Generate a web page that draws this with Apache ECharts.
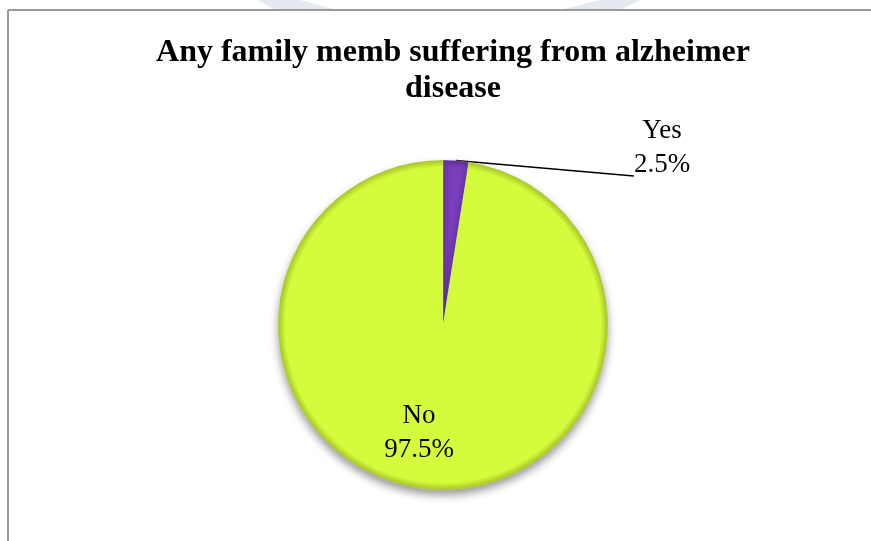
<!DOCTYPE html>
<html>
<head>
<meta charset="utf-8">
<script src="https://cdn.jsdelivr.net/npm/echarts@6/dist/echarts.min.js"></script>
<style>
html,body{margin:0;padding:0;background:#fff;}
#chart{width:871px;height:541px;}
</style>
</head>
<body>
<div id="chart"></div>
<script>
const titleText = 'Any family memb suffering from alzheimer\ndisease';
const categories = ['Yes', 'No'];
const values = [2.5, 97.5];
const colors = ['#7b3fbe', '#d4fc3c'];
const rimColors = ['#5e2d96', '#a6c326'];

const chart = echarts.init(document.getElementById('chart'));

const CX = 443, CY = 325, R = 165;

function sliceColor(base, rim) {
  return {
    type: 'radial', x: CX, y: CY, r: R, global: true,
    colorStops: [
      {offset: 0, color: base},
      {offset: 0.955, color: base},
      {offset: 1, color: rim}
    ]
  };
}

const option = {
  backgroundColor: '#ffffff',
  animation: false,
  title: {
    text: titleText,
    left: 448,
    top: 30,
    textAlign: 'center',
    textStyle: {
      fontFamily: 'Liberation Serif',
      fontWeight: 'bold',
      fontSize: 32,
      lineHeight: 36,
      color: '#000'
    }
  },
  graphic: [
    {type: 'polygon', silent: true, z: -1, shape: {points: [[258,0],[300,0],[336,10],[275,10]]}, style: {fill: '#e4eaef'}},
    {type: 'polygon', silent: true, z: -1, shape: {points: [[600,0],[640,0],[620,10],[560,10]]}, style: {fill: '#e4eaef'}},
    {type: 'line', silent: true, shape: {x1: 8, y1: 10, x2: 871, y2: 10}, style: {stroke: '#9a9a9a', lineWidth: 2}},
    {type: 'line', silent: true, shape: {x1: 8, y1: 10, x2: 8, y2: 541}, style: {stroke: '#9a9a9a', lineWidth: 2}}
  ],
  series: [{
    type: 'pie',
    center: [CX, CY],
    radius: R,
    startAngle: 90,
    clockwise: true,
    avoidLabelOverlap: false,
    itemStyle: {
      borderColor: 'rgba(255,255,255,0.35)',
      borderWidth: 0.5,
      shadowBlur: 8,
      shadowOffsetY: 5,
      shadowColor: 'rgba(0,0,0,0.4)'
    },
    label: {
      fontFamily: 'Liberation Serif',
      fontSize: 27,
      lineHeight: 34,
      color: '#000',
      align: 'center',
      formatter: '{b}\n{c}%'
    },
    labelLine: {
      show: true,
      length: 0,
      length2: 0,
      minTurnAngle: 0,
      lineStyle: {color: '#000', width: 1.5}
    },
    labelLayout: function (p) {
      if (p.dataIndex === 0) {
        return {x: 662, y: 176, align: 'center', verticalAlign: 'middle'};
      }
      return {x: 419, y: 433, align: 'center', verticalAlign: 'middle'};
    },
    data: categories.map(function (c, i) {
      const item = {
        name: c,
        value: values[i],
        itemStyle: {color: sliceColor(colors[i], rimColors[i])}
      };
      if (i === 1) {
        item.label = {position: 'inside'};
        item.labelLine = {show: false};
      } else {
        item.label = {
          position: 'outside',
          formatter: function (p) { return '{t|' + p.name + '}\n{t|' + p.value + '%}\n{p| }'; },
          rich: {
            t: {fontFamily: 'Liberation Serif', fontSize: 27, lineHeight: 34, color: '#000', align: 'center'},
            p: {fontSize: 10, lineHeight: 56}
          }
        };
      }
      return item;
    })
  }]
};
chart.setOption(option);
</script>
</body>
</html>
